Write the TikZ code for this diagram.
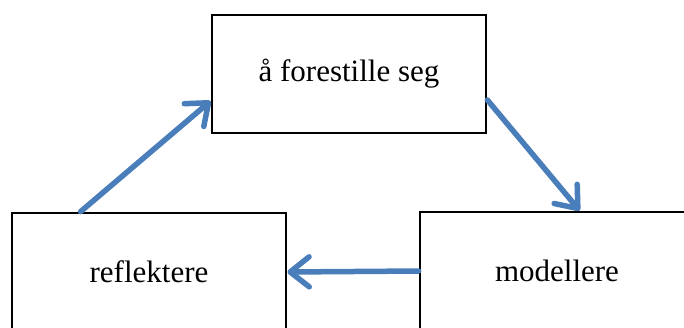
\documentclass[tikz,border=0pt]{standalone}
\usepackage{fontspec}
\setmainfont{Liberation Serif}
\usetikzlibrary{arrows.meta,calc}
\definecolor{arrowblue}{HTML}{4A7EBB}
\begin{document}
\begin{tikzpicture}[x=1pt,y=-1pt,
  stagebox/.style={draw=black,line width=2.8pt,rectangle,minimum width=274pt,minimum height=118pt,inner sep=0pt,
    font=\fontsize{31}{36}\selectfont},
  flow/.style={draw=arrowblue,line width=5.5pt,line cap=round,
    -{Straight Barb[length=19pt,width=30pt,round]}}]
\useasboundingbox (0,0) rectangle (684,327);
\clip (0,0) rectangle (684,327);
\node[stagebox] (top) at (349,74) {å forestille seg};
\node[stagebox] (left) at (149,272) {reflektere};
\node[stagebox] (right) at (557,271) {modellere};
\draw[flow] ($(left.north west)+(70,0)$) -- ($(top.west)+(0,27)$);
\draw[flow] ($(top.east)+(0,26)$) -- ($(right.north west)+(161,0)$);
\draw[flow] (right.west) -- (left.east);
\end{tikzpicture}
\end{document}
